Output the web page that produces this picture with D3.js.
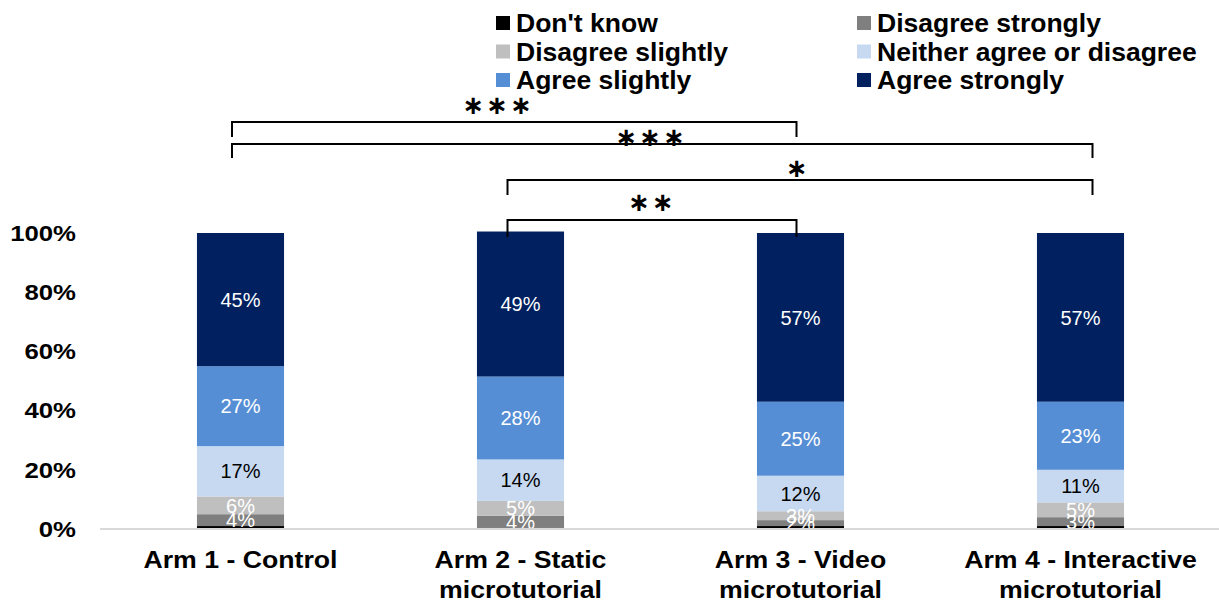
<!DOCTYPE html>
<html>
<head>
<meta charset="utf-8">
<script src="https://cdn.jsdelivr.net/npm/d3@7"></script>
<style>
  html, body { margin: 0; padding: 0; background: #fff; }
  svg { display: block; font-family: "Liberation Sans", Arial, sans-serif; }
</style>
</head>
<body>
<svg id="chart" width="1219" height="604"></svg>
<script>
// Survey responses by study arm (percent of respondents)
const arms = ["Arm 1 - Control", "Arm 2 - Static microtutorial", "Arm 3 - Video microtutorial", "Arm 4 - Interactive microtutorial"];
const armLines = [["Arm 1 - Control"], ["Arm 2 - Static", "microtutorial"], ["Arm 3 - Video", "microtutorial"], ["Arm 4 - Interactive", "microtutorial"]];

const responses = ["Don't know", "Disagree strongly", "Disagree slightly", "Neither agree or disagree", "Agree slightly", "Agree strongly"];
const dontKnow        = [1, 0.5, 1, 1];
const disagreeStrong  = [4, 4, 2, 3];
const disagreeSlight  = [6, 5, 3, 5];
const neither         = [17, 14, 12, 11];
const agreeSlight     = [27, 28, 25, 23];
const agreeStrong     = [45, 49, 57, 57];
const labelled        = [false, true, true, true, true, true];

const yTicks = [0, 20, 40, 60, 80, 100];

// Significance brackets between arms
const bracketFrom  = [0, 0, 1, 1];
const bracketTo    = [2, 3, 3, 2];
const bracketLabel = ["***", "***", "*", "**"];

const colors = ["#000000", "#7f7f7f", "#bfbfbf", "#c6d9f1", "#558ed5", "#002060"];
const labelColors = ["#fff", "#fff", "#fff", "#000", "#fff", "#fff"];

const seriesValues = [dontKnow, disagreeStrong, disagreeSlight, neither, agreeSlight, agreeStrong];
const rows = arms.map((a, i) => {
  const r = { arm: a };
  responses.forEach((k, j) => r[k] = seriesValues[j][i]);
  return r;
});
const stacked = d3.stack().keys(responses)(rows);

const svg = d3.select("#chart");
const x = d3.scaleBand().domain(arms).range([100.5, 1220.5]).paddingInner(0.689).paddingOuter(0.3445);
const y = d3.scaleLinear().domain([0, 100]).range([529, 233]);

// Bars
const layers = svg.append("g").selectAll("g").data(stacked).join("g")
  .attr("fill", (d, i) => colors[i]);
layers.selectAll("rect").data(d => d).join("rect")
  .attr("x", d => x(d.data.arm))
  .attr("width", x.bandwidth())
  .attr("y", d => y(d[1]))
  .attr("height", d => y(d[0]) - y(d[1]));

// Segment value labels
stacked.forEach((layer, i) => {
  if (!labelled[i]) return;
  svg.append("g").selectAll("text").data(layer).join("text")
    .attr("x", d => x(d.data.arm) + x.bandwidth() / 2)
    .attr("y", d => y((d[0] + d[1]) / 2))
    .attr("dy", "0.36em")
    .attr("text-anchor", "middle")
    .attr("font-size", 20)
    .attr("fill", labelColors[i])
    .text(d => (d[1] - d[0]) + "%");
});

// Baseline
svg.append("line")
  .attr("x1", 100).attr("x2", 1219)
  .attr("y1", y(0)).attr("y2", y(0))
  .attr("stroke", "#d9d9d9").attr("stroke-width", 2);

// Y axis
const yAxis = svg.append("g").attr("transform", "translate(76,0)")
  .call(d3.axisLeft(y).tickValues(yTicks).tickSize(0).tickPadding(0).tickFormat(d => d + "%"));
yAxis.select(".domain").remove();
yAxis.selectAll("text")
  .attr("x", 0)
  .attr("font-size", 23).attr("font-weight", "bold").attr("fill", "#000")
  .attr("font-family", "Liberation Sans, Arial, sans-serif")
  .attr("transform", "scale(1.12,1)");

// X axis with wrapped category names
const xAxis = svg.append("g").attr("transform", `translate(0,${y(0)})`)
  .call(d3.axisBottom(x).tickSize(0).tickFormat(""));
xAxis.select(".domain").remove();
xAxis.selectAll(".tick").each(function (d, i) {
  const t = d3.select(this).append("text")
    .attr("text-anchor", "middle")
    .attr("font-size", 23).attr("font-weight", "bold").attr("fill", "#000")
    .attr("font-family", "Liberation Sans, Arial, sans-serif")
    .attr("transform", "scale(1.16,1)");
  armLines[i].forEach((line, k) => {
    t.append("tspan").attr("x", 0).attr("y", 39 + k * 30).text(line);
  });
});

// Legend
const legend = svg.append("g");
const legendX = [496, 857];
const legendY = [23, 51.5, 80];
responses.forEach((r, i) => {
  const col = i % 2, row = Math.floor(i / 2);
  const g = legend.append("g").attr("transform", `translate(${legendX[col]},${legendY[row]})`);
  g.append("rect").attr("x", 0).attr("y", -7).attr("width", 14).attr("height", 14).attr("fill", colors[i]);
  g.append("text").attr("transform", "translate(20,9) scale(1.04,1)")
    .attr("font-size", 25.5).attr("font-weight", "bold").attr("fill", "#000")
    .text(r);
});

// Significance brackets
const anchorOffset = [-8.5, -13, -4, 12];
const bracketY = [122, 144, 180, 220];
const tickBottom = [137, 158, 195, 237];
const starDx = [-16, -11, -2, 0];
const starY = [105, 137, 168, 202];
const brackets = svg.append("g");
bracketFrom.forEach((f, i) => {
  const t = bracketTo[i];
  const x1 = x(arms[f]) + x.bandwidth() / 2 + anchorOffset[f];
  const x2 = x(arms[t]) + x.bandwidth() / 2 + anchorOffset[t];
  brackets.append("path")
    .attr("d", `M${x1},${tickBottom[i]}V${bracketY[i]}H${x2}V${tickBottom[i]}`)
    .attr("fill", "none").attr("stroke", "#000").attr("stroke-width", 2);
  brackets.append("text")
    .attr("x", (x1 + x2) / 2 + starDx[i])
    .attr("y", starY[i])
    .attr("dy", "0.35em")
    .attr("text-anchor", "middle")
    .attr("font-family", "DejaVu Sans, sans-serif")
    .attr("font-size", 26)
    .attr("font-weight", "bold")
    .attr("letter-spacing", 2)
    .attr("fill", "#000")
    .text(bracketLabel[i].replace(/\*/g, "\u2217"));
});
</script>
</body>
</html>
